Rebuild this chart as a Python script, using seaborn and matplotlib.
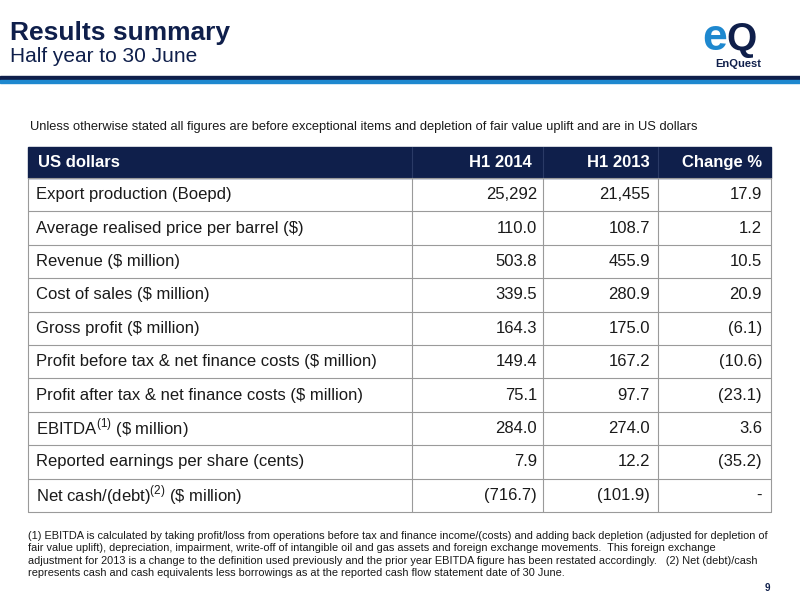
import matplotlib
matplotlib.use("Agg")
import matplotlib.pyplot as plt
import seaborn as sns

sns.set_theme(style="white")
plt.rcParams["font.family"] = ["Liberation Sans", "DejaVu Sans"]
plt.rcParams["mathtext.fontset"] = "custom"
plt.rcParams["mathtext.rm"] = "Liberation Sans"

columns = ["US dollars", "H1 2014", "H1 2013", "Change %"]
labels = [
    "Export production (Boepd)",
    "Average realised price per barrel (\\$)",
    "Revenue (\\$ million)",
    "Cost of sales (\\$ million)",
    "Gross profit (\\$ million)",
    "Profit before tax & net finance costs (\\$ million)",
    "Profit after tax & net finance costs (\\$ million)",
    r"EBITDA$^{(1)}$ (\$ million)",
    "Reported earnings per share (cents)",
    r"Net cash/(debt)$^{(2)}$ (\$ million)",
]
h1_2014 = ["25,292", "110.0", "503.8", "339.5", "164.3", "149.4", "75.1", "284.0", "7.9", "(716.7)"]
h1_2013 = ["21,455", "108.7", "455.9", "280.9", "175.0", "167.2", "97.7", "274.0", "12.2", "(101.9)"]
change = ["17.9", "1.2", "10.5", "20.9", "(6.1)", "(10.6)", "(23.1)", "3.6", "(35.2)", "-"]

navy = "#0f1f4b"
text_c = "#1a1a1a"

fig = plt.figure(figsize=(8, 6), dpi=100)
ax = fig.add_axes([0, 0, 1, 1])
ax.set_xlim(0, 800)
ax.set_ylim(600, 0)
ax.axis("off")

# title block
ax.text(10, 33, "Results summary", fontsize=19, fontweight="bold", color=navy, va="center")
ax.text(10, 57, "Half year to 30 June", fontsize=15, color=navy, va="center")
ax.axhspan(76, 80, color=navy)
ax.axhspan(80, 83, color="#1e88cf")

# logo
ax.text(727, 50, "e", fontsize=32, fontweight="bold", color="#1e88cf", va="baseline", ha="right")
ax.text(726, 50, "Q", fontsize=28, fontweight="bold", color=navy, va="baseline", ha="left")
ax.text(738, 64, "EnQuest", fontsize=8, fontweight="bold", color=navy, va="center", ha="center")

ax.text(30, 127, "Unless otherwise stated all figures are before exceptional items and depletion of fair value uplift and are in US dollars",
        fontsize=9.3, color=text_c, va="center")

left, right = 28, 771
col_x = [412, 543, 658]
top, head_h, row_h = 147, 31, 33.4

ax.add_patch(plt.Rectangle((left, top), right - left, head_h, color=navy))
for x in col_x:
    ax.plot([x, x], [top, top + head_h], color="#2a3a66", lw=0.8)
ax.text(38, top + head_h / 2, columns[0], fontsize=12, fontweight="bold", color="white", va="center")
for x, c in zip([532, 650, 762], columns[1:]):
    ax.text(x, top + head_h / 2, c, fontsize=12, fontweight="bold", color="white", va="center", ha="right")

bottom = top + head_h + row_h * len(labels)
for i in range(len(labels) + 1):
    y = top + head_h + row_h * i
    ax.plot([left, right], [y, y], color="#9a9a9a", lw=0.8)
for x in [left] + col_x + [right]:
    ax.plot([x, x], [top + head_h, bottom], color="#9a9a9a", lw=0.8)

for i, lab in enumerate(labels):
    y = top + head_h + row_h * (i + 0.5)
    ax.text(36, y, lab, fontsize=12, color=text_c, va="center")
    ax.text(537, y, h1_2014[i], fontsize=12, color=text_c, va="center", ha="right")
    ax.text(650, y, h1_2013[i], fontsize=12, color=text_c, va="center", ha="right")
    ax.text(762, y, change[i], fontsize=12, color=text_c, va="center", ha="right")

foot = ("(1) EBITDA is calculated by taking profit/loss from operations before tax and finance income/(costs) and adding back depletion (adjusted for depletion of\n"
        "fair value uplift), depreciation, impairment, write-off of intangible oil and gas assets and foreign exchange movements.  This foreign exchange\n"
        "adjustment for 2013 is a change to the definition used previously and the prior year EBITDA figure has been restated accordingly.   (2) Net (debt)/cash\n"
        "represents cash and cash equivalents less borrowings as at the reported cash flow statement date of 30 June.")
ax.text(28, 531, foot, fontsize=7.95, color=text_c, va="top", linespacing=1.3)
ax.text(770, 588, "9", fontsize=7, fontweight="bold", color=navy, va="center", ha="right")

fig.savefig("out.png", dpi=100)
